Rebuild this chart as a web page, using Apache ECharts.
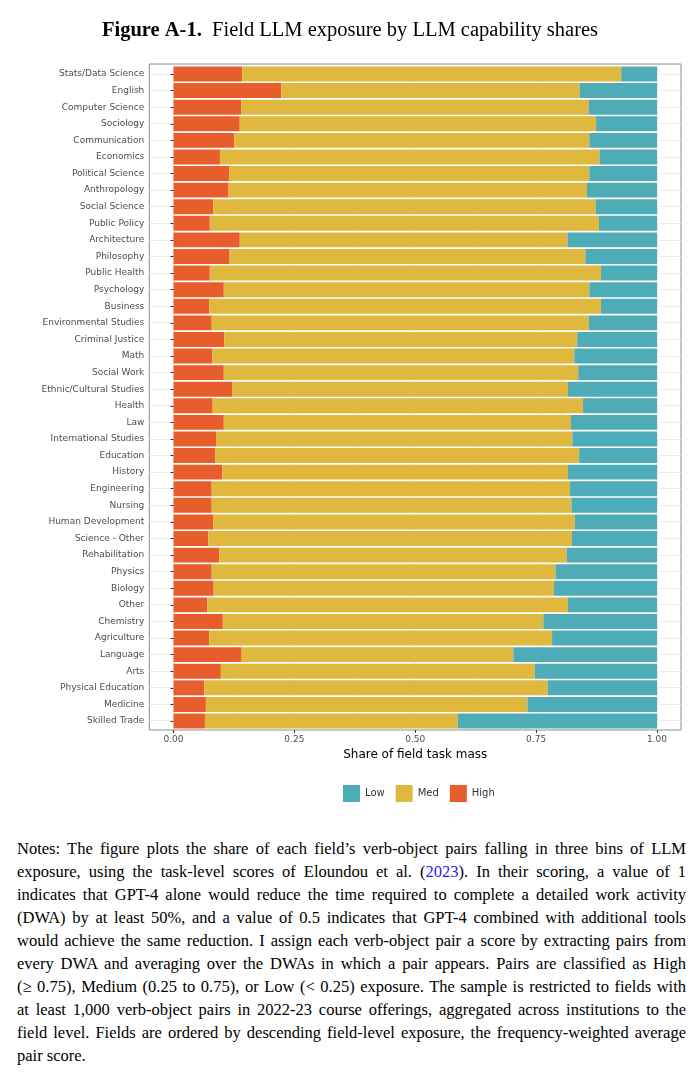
<!DOCTYPE html>
<html>
<head>
<meta charset="utf-8">
<title>Figure A-1</title>
<script src="https://cdn.jsdelivr.net/npm/echarts@6/dist/echarts.min.js"></script>
<style>
    body { margin: 0; background: #fff; }
    #wrap { position: relative; width: 700px; height: 1075px; overflow: hidden; }
    #chart { position: absolute; left: 0; top: 0; width: 700px; height: 830px; }
    #notes {
        position: absolute; left: 17px; top: 837px; width: 669px;
        font-family: "Liberation Serif", "DejaVu Serif", serif;
        font-size: 16.5px; line-height: 23px; color: #000;
    }
    #notes .ln { text-align: justify; text-align-last: justify; white-space: nowrap; }
    #notes .ln.last { text-align-last: left; }
    #notes .cite { color: #1a1aff; }
</style>
</head>
<body>
<div id="wrap">
    <div id="chart"></div>
    <div id="notes">
        <div class="ln">Notes: The figure plots the share of each field’s verb-object pairs falling in three bins of LLM</div>
        <div class="ln">exposure, using the task-level scores of Eloundou et al. (<span class="cite">2023</span>). In their scoring, a value of 1</div>
        <div class="ln">indicates that GPT-4 alone would reduce the time required to complete a detailed work activity</div>
        <div class="ln">(DWA) by at least 50%, and a value of 0.5 indicates that GPT-4 combined with additional tools</div>
        <div class="ln">would achieve the same reduction. I assign each verb-object pair a score by extracting pairs from</div>
        <div class="ln">every DWA and averaging over the DWAs in which a pair appears. Pairs are classified as High</div>
        <div class="ln">(≥ 0.75), Medium (0.25 to 0.75), or Low (&lt; 0.25) exposure. The sample is restricted to fields with</div>
        <div class="ln">at least 1,000 verb-object pairs in 2022-23 course offerings, aggregated across institutions to the</div>
        <div class="ln">field level. Fields are ordered by descending field-level exposure, the frequency-weighted average</div>
        <div class="ln last">pair score.</div>
    </div>
</div>
<script>
// fields, top to bottom
var fields = ['Stats/Data Science', 'English', 'Computer Science', 'Sociology', 'Communication',
    'Economics', 'Political Science', 'Anthropology', 'Social Science', 'Public Policy',
    'Architecture', 'Philosophy', 'Public Health', 'Psychology', 'Business',
    'Environmental Studies', 'Criminal Justice', 'Math', 'Social Work', 'Ethnic/Cultural Studies',
    'Health', 'Law', 'International Studies', 'Education', 'History',
    'Engineering', 'Nursing', 'Human Development', 'Science - Other', 'Rehabilitation',
    'Physics', 'Biology', 'Other', 'Chemistry', 'Agriculture',
    'Language', 'Arts', 'Physical Education', 'Medicine', 'Skilled Trade'];

// share of field task mass in each exposure bin
var highShare = [0.142, 0.223, 0.140, 0.137, 0.126, 0.096, 0.115, 0.114, 0.082, 0.075,
    0.137, 0.116, 0.075, 0.104, 0.074, 0.079, 0.105, 0.080, 0.104, 0.122,
    0.081, 0.104, 0.088, 0.086, 0.101, 0.079, 0.079, 0.082, 0.072, 0.095,
    0.079, 0.083, 0.070, 0.102, 0.074, 0.141, 0.098, 0.064, 0.067, 0.065];
var medShare = [0.784, 0.617, 0.719, 0.737, 0.734, 0.785, 0.745, 0.741, 0.791, 0.805,
    0.678, 0.736, 0.809, 0.756, 0.810, 0.780, 0.730, 0.749, 0.733, 0.694,
    0.766, 0.718, 0.737, 0.753, 0.715, 0.741, 0.744, 0.748, 0.752, 0.718,
    0.711, 0.704, 0.746, 0.663, 0.709, 0.562, 0.649, 0.710, 0.665, 0.523];
var lowShare = [0.074, 0.160, 0.141, 0.126, 0.140, 0.119, 0.140, 0.145, 0.127, 0.120,
    0.185, 0.148, 0.116, 0.140, 0.116, 0.141, 0.165, 0.171, 0.163, 0.184,
    0.153, 0.178, 0.175, 0.161, 0.184, 0.180, 0.177, 0.170, 0.176, 0.187,
    0.210, 0.213, 0.184, 0.235, 0.217, 0.297, 0.253, 0.226, 0.268, 0.412];

var xTicks = [0, 0.25, 0.5, 0.75, 1];

var colHigh = '#e85d2c';
var colMed = '#e0b83e';
var colLow = '#4eacb8';
var sansFont = 'DejaVu Sans';

var myChart = echarts.init(document.getElementById('chart'));

var option = {
    animation: false,
    backgroundColor: '#fff',
    title: {
        text: '{b|Figure A-1.}  Field LLM exposure by LLM capability shares',
        left: 'center',
        top: 15,
        textStyle: {
            fontFamily: 'Liberation Serif',
            fontSize: 20.5,
            fontWeight: 'normal',
            color: '#000',
            rich: {
                b: { fontFamily: 'Liberation Serif', fontSize: 20.5, fontWeight: 'bold', color: '#000' }
            }
        }
    },
    legend: {
        data: ['Low', 'Med', 'High'],
        left: 338,
        top: 780,
        icon: 'rect',
        itemWidth: 17,
        itemHeight: 17,
        itemGap: 11,
        textStyle: { fontFamily: sansFont, fontSize: 10, color: '#333' }
    },
    grid: [
        // bars
        { left: 173.5, right: 43, top: 65.7, height: 663.6 },
        // horizontal guide lines through bar centres
        { left: 149.3, right: 19, top: 74, height: 646.7 },
        // panel frame
        { left: 149.3, right: 19, top: 64, height: 666, show: true, borderColor: '#8c8c8c', borderWidth: 1, backgroundColor: 'transparent' }
    ],
    xAxis: [
        {
            gridIndex: 0,
            type: 'value',
            min: xTicks[0],
            max: xTicks[xTicks.length - 1],
            interval: 0.25,
            offset: 0.7,
            name: 'Share of field task mass',
            nameLocation: 'middle',
            nameGap: 17,
            nameTextStyle: { fontFamily: sansFont, fontSize: 12, color: '#000' },
            axisLine: { show: false },
            axisTick: { show: true, length: 3, lineStyle: { color: '#333' } },
            axisLabel: {
                margin: 5,
                fontFamily: sansFont,
                fontSize: 9,
                color: '#4d4d4d',
                formatter: function (v) { return v.toFixed(2); }
            },
            splitLine: { show: true, lineStyle: { color: '#ebebeb', width: 1 } },
            minorTick: { show: false, splitNumber: 2 },
            minorSplitLine: { show: true, lineStyle: { color: '#f2f2f2', width: 0.6 } }
        },
        { gridIndex: 1, type: 'value', show: false },
        { gridIndex: 2, type: 'value', show: false }
    ],
    yAxis: [
        {
            gridIndex: 0,
            type: 'category',
            data: fields,
            inverse: true,
            offset: 24.2,
            axisLine: { show: false },
            axisTick: { show: true, length: 3, alignWithLabel: true, lineStyle: { color: '#333' } },
            axisLabel: { margin: 5, fontFamily: sansFont, fontSize: 9, color: '#4d4d4d' },
            splitLine: { show: false }
        },
        {
            gridIndex: 1,
            type: 'category',
            data: fields,
            inverse: true,
            boundaryGap: false,
            axisLine: { show: false },
            axisTick: { show: false },
            axisLabel: { show: false },
            splitLine: { show: true, lineStyle: { color: '#ebebeb', width: 1 } }
        },
        { gridIndex: 2, type: 'value', show: false }
    ],
    series: [
        {
            name: 'High',
            type: 'bar',
            stack: 'share',
            data: highShare,
            barCategoryGap: '10%',
            itemStyle: { color: colHigh }
        },
        {
            name: 'Med',
            type: 'bar',
            stack: 'share',
            data: medShare,
            barCategoryGap: '10%',
            itemStyle: { color: colMed }
        },
        {
            name: 'Low',
            type: 'bar',
            stack: 'share',
            data: lowShare,
            barCategoryGap: '10%',
            itemStyle: { color: colLow }
        }
    ]
};

myChart.setOption(option);
</script>
</body>
</html>
